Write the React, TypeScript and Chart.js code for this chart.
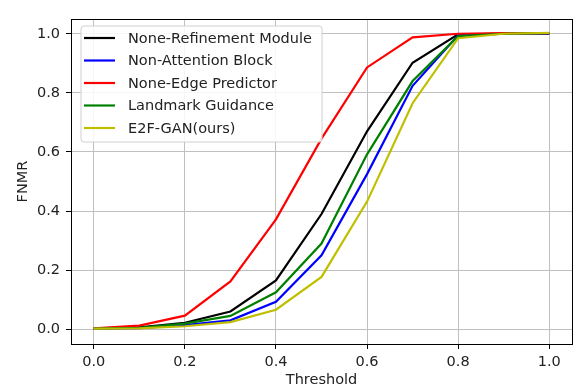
import React, { useEffect, useRef } from "react";
import { Chart, registerables } from "chart.js";

Chart.register(...registerables);

const thresholds = [0.0, 0.1, 0.2, 0.3, 0.4, 0.5, 0.6, 0.7, 0.8, 0.9, 1.0];
const noneRefinement = [0.003, 0.006, 0.022, 0.06, 0.165, 0.39, 0.67, 0.902, 0.998, 1.0, 1.0];
const nonAttention = [0.002, 0.004, 0.014, 0.03, 0.093, 0.25, 0.525, 0.824, 0.995, 1.0, 1.0];
const noneEdge = [0.003, 0.012, 0.046, 0.162, 0.372, 0.645, 0.886, 0.988, 1.0, 1.002, 1.002];
const landmark = [0.002, 0.005, 0.019, 0.045, 0.125, 0.29, 0.592, 0.84, 0.992, 1.0, 1.002];
const e2fGan = [0.002, 0.003, 0.01, 0.024, 0.066, 0.177, 0.432, 0.765, 0.985, 1.0, 1.003];

const seriesNames = [
  "None-Refinement Module",
  "Non-Attention Block",
  "None-Edge Predictor",
  "Landmark Guidance",
  "E2F-GAN(ours)",
];
const seriesValues = [noneRefinement, nonAttention, noneEdge, landmark, e2fGan];
const seriesColors = ["#000000", "#0000ff", "#ff0000", "#008000", "#bfbf00"];
const tickValues = [0, 0.2, 0.4, 0.6, 0.8, 1.0];

const FONT = "'DejaVu Sans', sans-serif";
const FS = 14.5;

const framePlugin = {
  id: "frame",
  afterDatasetsDraw(chart: any) {
    const { ctx, chartArea } = chart;
    ctx.save();
    ctx.strokeStyle = "#000";
    ctx.lineWidth = 1;
    ctx.strokeRect(
      Math.round(chartArea.left) + 0.5,
      Math.round(chartArea.top) + 0.5,
      Math.round(chartArea.right - chartArea.left),
      Math.round(chartArea.bottom - chartArea.top)
    );
    ctx.restore();
  },
};

const legendPlugin = {
  id: "mplLegend",
  afterDraw(chart: any) {
    const { ctx } = chart;
    const x0 = 81;
    const y0 = 26;
    const w = 241;
    const h = 116;
    ctx.save();
    ctx.beginPath();
    const r = 3;
    ctx.moveTo(x0 + r, y0);
    ctx.lineTo(x0 + w - r, y0);
    ctx.quadraticCurveTo(x0 + w, y0, x0 + w, y0 + r);
    ctx.lineTo(x0 + w, y0 + h - r);
    ctx.quadraticCurveTo(x0 + w, y0 + h, x0 + w - r, y0 + h);
    ctx.lineTo(x0 + r, y0 + h);
    ctx.quadraticCurveTo(x0, y0 + h, x0, y0 + h - r);
    ctx.lineTo(x0, y0 + r);
    ctx.quadraticCurveTo(x0, y0, x0 + r, y0);
    ctx.closePath();
    ctx.fillStyle = "rgba(255,255,255,0.85)";
    ctx.fill();
    ctx.strokeStyle = "#d0d0d0";
    ctx.lineWidth = 1;
    ctx.stroke();
    chart.data.datasets.forEach((ds: any, i: number) => {
      const cy = 38 + i * 22.5;
      ctx.beginPath();
      ctx.moveTo(84, cy);
      ctx.lineTo(115, cy);
      ctx.strokeStyle = ds.borderColor;
      ctx.lineWidth = 2.2;
      ctx.stroke();
      ctx.fillStyle = "#222";
      ctx.font = `${FS}px ${FONT}`;
      ctx.textBaseline = "middle";
      ctx.textAlign = "left";
      ctx.fillText(ds.label, 128, cy + 1);
    });
    ctx.restore();
  },
};

export default function App() {
  const canvasRef = useRef<HTMLCanvasElement | null>(null);

  useEffect(() => {
    document.body.style.margin = "0";
    const canvas = canvasRef.current;
    if (!canvas) return;
    const chart = new Chart(canvas, {
      type: "line",
      data: {
        datasets: seriesNames.map((name, i) => ({
          label: name,
          data: thresholds.map((t, j) => ({ x: t, y: seriesValues[i][j] })),
          borderColor: seriesColors[i],
          backgroundColor: seriesColors[i],
          borderWidth: 2.2,
          pointRadius: 0,
          fill: false,
          tension: 0,
          order: seriesNames.length - i,
        })),
      },
      options: {
        responsive: false,
        animation: false,
        layout: { padding: { left: 0, right: 4, top: 19, bottom: 0 } },
        plugins: {
          legend: { display: false },
          tooltip: { enabled: false },
        },
        scales: {
          x: {
            type: "linear",
            min: -0.05,
            max: 1.05,
            afterBuildTicks: (scale: any) => {
              scale.ticks = tickValues.map((v) => ({ value: v }));
            },
            afterFit: (scale: any) => {
              scale.height = 45;
            },
            ticks: {
              color: "#222",
              font: { family: FONT, size: FS },
              padding: 5,
              maxRotation: 0,
              callback: (v: any) => Number(v).toFixed(1),
            },
            grid: {
              color: "#c0c0c0",
              lineWidth: 1,
              tickColor: "#000",
              tickLength: 5,
              drawTicks: true,
            },
            border: { display: false },
            title: {
              display: true,
              text: "Threshold",
              color: "#222",
              font: { family: FONT, size: FS },
              padding: { top: 0, bottom: 0 },
            },
          },
          y: {
            type: "linear",
            min: -0.05,
            max: 1.05,
            afterBuildTicks: (scale: any) => {
              scale.ticks = tickValues.map((v) => ({ value: v }));
            },
            afterFit: (scale: any) => {
              scale.width = 71;
            },
            ticks: {
              color: "#222",
              font: { family: FONT, size: FS },
              padding: 6,
              callback: (v: any) => Number(v).toFixed(1),
            },
            grid: {
              color: "#c0c0c0",
              lineWidth: 1,
              tickColor: "#000",
              tickLength: 5,
              drawTicks: true,
            },
            border: { display: false },
            title: {
              display: true,
              text: "FNMR",
              color: "#222",
              font: { family: FONT, size: FS },
              padding: { top: 15, bottom: 0 },
            },
          },
        },
      },
      plugins: [framePlugin, legendPlugin],
    });
    return () => chart.destroy();
  }, []);

  return (
    <div style={{ width: 576, height: 389 }}>
      <canvas ref={canvasRef} width={576} height={389} style={{ display: "block" }} />
    </div>
  );
}
